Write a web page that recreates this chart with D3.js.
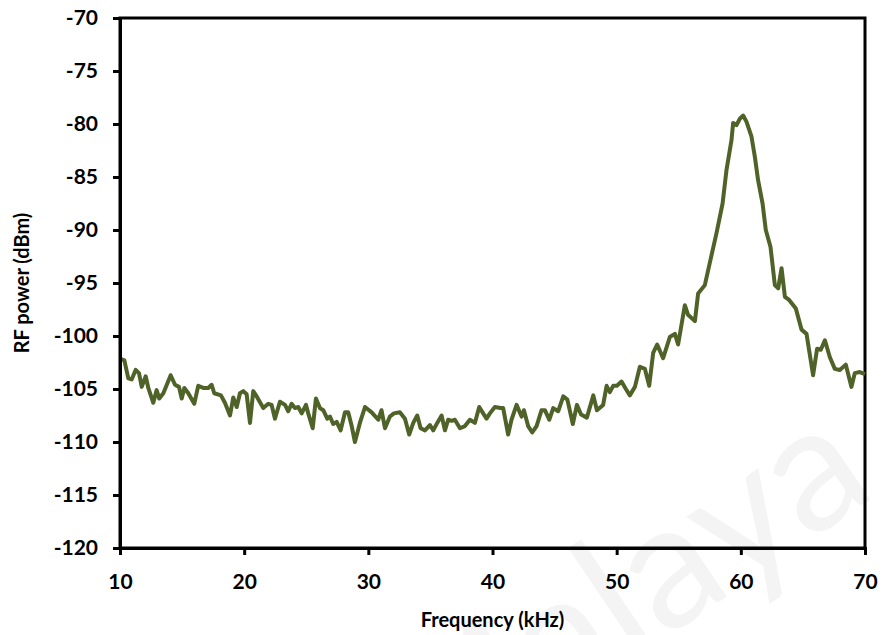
<!DOCTYPE html>
<!-- RF power spectrum around the 60 kHz resonance -->
<html lang="en">
<head>
<meta charset="utf-8">
<title>RF power spectrum</title>
<script src="https://d3js.org/d3.v7.min.js"></script>
<style>
  body { margin: 0; background: #fff; }
  svg text { font-family: "Lato", "Open Sans", sans-serif; font-weight: bold; }
</style>
</head>
<body>
<svg id="chart" width="883" height="635"></svg>
<script>
var freq = [10.0, 10.14, 10.35, 10.67, 10.94, 11.26, 11.53, 11.75, 12.07, 12.28, 12.68, 12.95, 13.16, 13.49,
  14.08, 14.43, 14.75, 14.97, 15.18, 15.50, 15.98, 16.30, 16.71, 17.11, 17.38, 17.59, 18.13, 18.45,
  18.86, 19.12, 19.40, 19.66, 19.93, 20.20, 20.47, 20.73, 21.01, 21.54, 21.94, 22.21, 22.48, 22.88,
  23.29, 23.55, 23.82, 24.09, 24.36, 24.63, 24.98, 25.16, 25.52, 25.78, 26.10, 26.37, 26.69, 26.91,
  27.17, 27.45, 27.77, 28.12, 28.38, 28.66, 28.92, 29.32, 29.73, 30.27, 30.80, 31.06, 31.34, 31.74,
  32.06, 32.54, 32.95, 33.29, 33.62, 33.94, 34.21, 34.56, 34.96, 35.23, 35.55, 35.90, 36.17, 36.43,
  36.71, 36.97, 37.38, 37.78, 38.18, 38.58, 38.93, 39.25, 39.52, 39.79, 40.19, 40.65, 40.86, 41.26,
  41.53, 41.94, 42.34, 42.53, 42.87, 43.20, 43.55, 43.95, 44.22, 44.57, 44.89, 45.29, 45.70, 46.03,
  46.47, 46.80, 47.13, 47.60, 48.12, 48.41, 48.91, 49.19, 49.45, 49.72, 50.02, 50.39, 50.74, 51.06,
  51.47, 51.87, 52.27, 52.62, 52.94, 53.26, 53.74, 54.28, 54.69, 54.95, 55.49, 55.75, 56.30, 56.56,
  57.10, 57.50, 58.04, 58.53, 58.85, 59.25, 59.38, 59.65, 59.92, 60.19, 60.46, 60.86, 61.13, 61.39,
  61.75, 62.01, 62.39, 62.74, 63.01, 63.28, 63.55, 63.89, 64.43, 64.89, 65.29, 65.82, 66.14, 66.44,
  66.77, 67.17, 67.57, 67.97, 68.45, 68.91, 69.18, 69.58, 70.0];
var power = [-102.2, -102.2, -102.3, -104.0, -104.1, -103.2, -103.5, -104.8, -103.8, -104.9, -106.3, -105.1, -105.9, -105.4,
  -103.7, -104.6, -104.8, -105.9, -104.9, -105.4, -106.4, -104.7, -104.9, -104.9, -104.6, -105.4, -105.6, -106.3,
  -107.5, -105.8, -106.7, -105.4, -105.2, -105.5, -108.2, -105.2, -105.7, -106.8, -106.4, -106.5, -107.8, -106.2,
  -106.5, -107.1, -106.4, -106.8, -106.7, -107.3, -106.5, -107.3, -108.7, -105.9, -106.8, -107.0, -107.8, -107.6,
  -108.3, -108.1, -108.9, -107.2, -107.2, -108.5, -110.0, -108.2, -106.7, -107.2, -107.9, -107.0, -108.7, -107.6,
  -107.3, -107.2, -107.8, -109.3, -108.2, -107.5, -108.7, -108.9, -108.4, -108.9, -108.2, -107.5, -108.9, -107.9,
  -108.0, -107.9, -108.7, -108.5, -107.9, -108.2, -106.7, -107.3, -107.8, -107.3, -106.7, -106.8, -106.8, -109.3,
  -107.9, -106.5, -107.6, -107.0, -108.5, -109.1, -108.5, -107.0, -107.0, -107.9, -106.8, -107.1, -105.7, -106.0,
  -108.3, -106.5, -107.4, -107.7, -105.6, -107.0, -106.5, -104.7, -105.3, -104.7, -104.7, -104.3, -105.0, -105.6,
  -104.8, -102.9, -103.1, -104.7, -101.6, -100.8, -102.1, -100.1, -99.8, -100.8, -97.1, -98.0, -98.6, -96.0,
  -95.2, -93.1, -90.3, -87.5, -84.3, -81.5, -79.9, -80.1, -79.5, -79.2, -79.8, -81.2, -83.1, -85.3,
  -87.5, -90.0, -91.6, -95.2, -95.5, -93.6, -96.3, -96.6, -97.4, -99.4, -99.8, -103.7, -101.2, -101.3,
  -100.4, -102.0, -103.1, -103.2, -102.7, -104.8, -103.5, -103.4, -103.6];
var xTicks = [10, 20, 30, 40, 50, 60, 70];
var yTicks = [-70, -75, -80, -85, -90, -95, -100, -105, -110, -115, -120];

var plotLeft = 120, plotRight = 865, plotTop = 18, plotBottom = 548;
var svg = d3.select("#chart");

// faint watermark behind the plot
svg.append("text")
  .attr("transform", "translate(425,800) rotate(-34)")
  .attr("font-size", 175)
  .attr("fill", "#f4f4f4")
  .style("font-weight", "normal")
  .text("Malaya");

var x = d3.scaleLinear().domain([10, 70]).range([plotLeft, plotRight]);
var y = d3.scaleLinear().domain([-120, -70]).range([plotBottom, plotTop]);

var data = freq.map(function(f, i) { return [f, power[i]]; });

// frame
svg.append("rect")
  .attr("x", plotLeft).attr("y", plotTop)
  .attr("width", plotRight - plotLeft).attr("height", plotBottom - plotTop)
  .attr("fill", "none").attr("stroke", "#000").attr("stroke-width", 3);

// trace
svg.append("path")
  .datum(data)
  .attr("fill", "none")
  .attr("stroke", "#4f6228")
  .attr("stroke-width", 4)
  .attr("stroke-linejoin", "round")
  .attr("d", d3.line().x(function(d) { return x(d[0]); }).y(function(d) { return y(d[1]); }));

// plain hyphen for negatives, as in the original
var fmt = function(d) { return String(d); };

var xAxis = svg.append("g")
  .attr("transform", "translate(0," + plotBottom + ")")
  .call(d3.axisBottom(x).tickValues(xTicks).tickFormat(fmt).tickSize(7).tickPadding(14));
var yAxis = svg.append("g")
  .attr("transform", "translate(" + plotLeft + ",0)")
  .call(d3.axisLeft(y).tickValues(yTicks).tickFormat(fmt).tickSize(7).tickPadding(15));

[xAxis, yAxis].forEach(function(g) {
  g.select(".domain").attr("stroke", "#000").attr("stroke-width", 3);
  g.selectAll(".tick line").attr("stroke", "#000").attr("stroke-width", 3);
  g.selectAll(".tick text").attr("font-size", 21).attr("fill", "#000")
    .style("font-family", "Lato, 'Open Sans', sans-serif").style("font-weight", "bold");
});
xAxis.selectAll(".tick text").attr("dy", "0.95em");

svg.append("text")
  .attr("x", (plotLeft + plotRight) / 2).attr("y", 627)
  .attr("text-anchor", "middle")
  .attr("font-size", 20)
  .text("Frequency (kHz)");

svg.append("text")
  .attr("transform", "translate(29," + (plotTop + plotBottom) / 2 + ") rotate(-90)")
  .attr("text-anchor", "middle")
  .attr("font-size", 20)
  .text("RF power (dBm)");
</script>
</body>
</html>
